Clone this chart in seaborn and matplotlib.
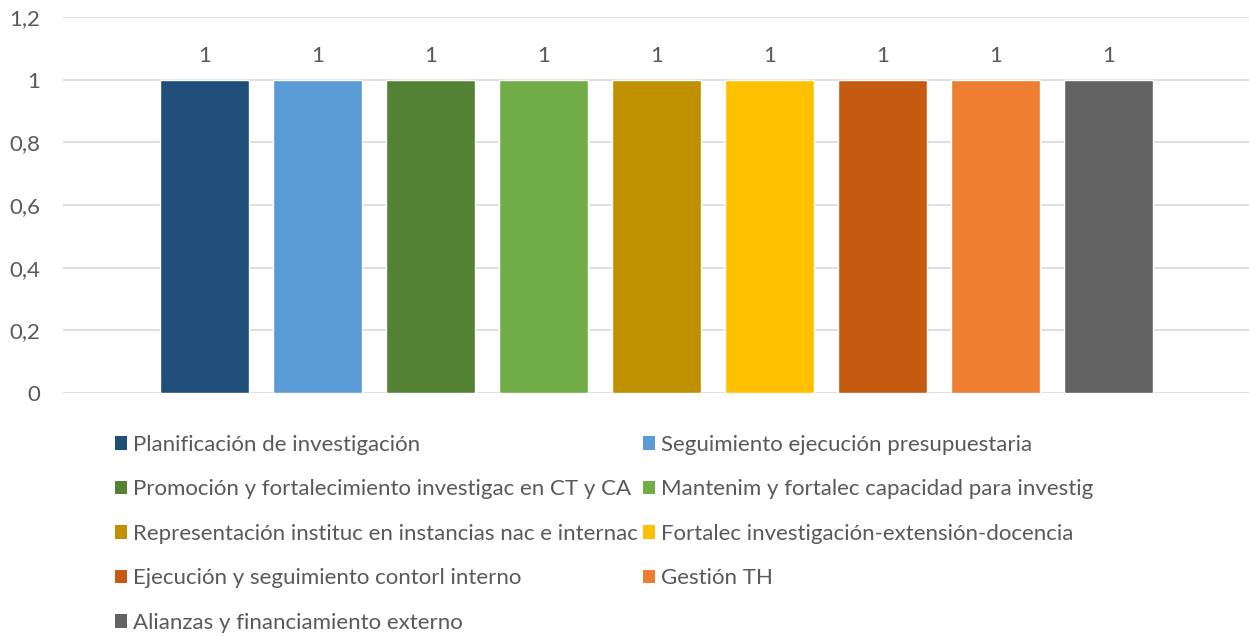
import matplotlib
matplotlib.use("Agg")
import matplotlib.pyplot as plt
import seaborn as sns
import pandas as pd
from matplotlib.patches import Patch

series = [
    "Planificación de investigación",
    "Seguimiento ejecución presupuestaria",
    "Promoción y fortalecimiento investigac en CT y CA",
    "Mantenim y fortalec capacidad para investig",
    "Representación instituc en instancias nac e internac",
    "Fortalec investigación-extensión-docencia",
    "Ejecución y seguimiento contorl interno",
    "Gestión TH",
    "Alianzas y financiamiento externo",
]
values = [1, 1, 1, 1, 1, 1, 1, 1, 1]
colors = ["#1F4E79", "#5B9BD5", "#548235", "#70AD47", "#BF9000",
          "#FFC000", "#C55A11", "#ED7D31", "#636363"]
yticks = [0, 0.2, 0.4, 0.6, 0.8, 1.0, 1.2]
ytick_labels = ["0", "0,2", "0,4", "0,6", "0,8", "1", "1,2"]

sns.set_theme(style="white")
plt.rcParams["font.family"] = ["Lato", "DejaVu Sans"]
txt = "#595959"
fs = 16

df = pd.DataFrame({"cat": ["A"] * len(series), "serie": series, "valor": values})

fig = plt.figure(figsize=(12.49, 6.36), dpi=100)
ax = fig.add_axes([63 / 1249, 1 - 393 / 636, 1187 / 1249, 376 / 636])
sns.barplot(data=df, x="cat", y="valor", hue="serie", hue_order=series,
            palette=colors, width=0.857, gap=0.21, dodge=True,
            saturation=1, legend=False, ax=ax, errorbar=None)
ax.set_xlim(-0.5, 0.5)
ax.set_ylim(0, 1.2)
ax.set_yticks(yticks)
ax.set_yticklabels(ytick_labels)
ax.yaxis.grid(True, color="#D9D9D9", linewidth=1.2)
ax.set_axisbelow(True)
for s in ax.spines.values():
    s.set_visible(False)
ax.set_xticks([])
ax.set_xlabel("")
ax.set_ylabel("")
ax.tick_params(axis="y", length=0, pad=16.5, labelsize=fs, labelcolor=txt)
for c in ax.containers:
    ax.bar_label(c, labels=["1" for _ in c], padding=10, fontsize=fs, color=txt)

order = [0, 2, 4, 6, 8, 1, 3, 5, 7]
handles = [Patch(facecolor=colors[i], edgecolor="none") for i in order]
labels = [series[i] for i in order]
fig.legend(handles, labels, ncol=2, loc="upper left",
           bbox_to_anchor=(115 / 1249, 1 - 435 / 636), frameon=False,
           fontsize=fs, labelcolor=txt, handlelength=0.55, handleheight=0.55,
           handletextpad=0.28, columnspacing=0.2, labelspacing=1.1,
           borderpad=0, borderaxespad=0)

fig.savefig("out.png", dpi=100)
